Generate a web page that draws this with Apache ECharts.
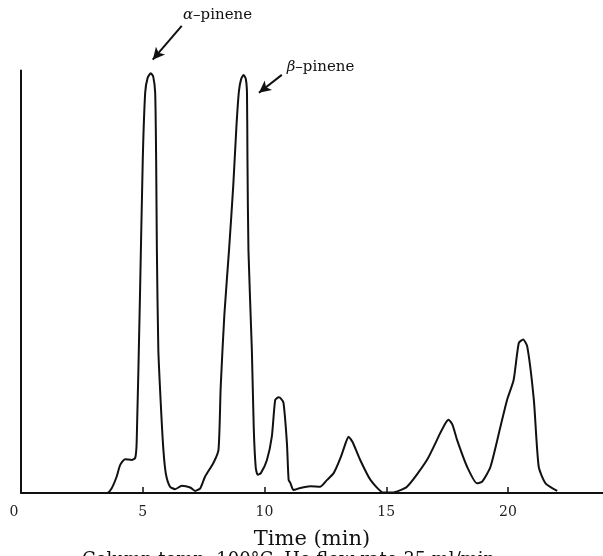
<!DOCTYPE html>
<html>
<head>
<meta charset="utf-8">
<script src="https://cdn.jsdelivr.net/npm/echarts@6/dist/echarts.min.js"></script>
<style>
html,body{margin:0;padding:0;background:#fff;}
#chart{width:603px;height:556px;}
</style>
</head>
<body>
<div id="chart"></div>
<script>
// Retention time (min) and detector signal (relative units)
var timeMin = [0, 0, 3.53, 3.73, 3.93, 4.07, 4.27, 4.55, 4.69, 4.75, 4.88, 5.00, 5.10, 5.20, 5.33, 5.43, 5.51, 5.55, 5.58, 5.64, 5.75, 5.85, 5.95, 6.12, 6.33, 6.60, 6.95, 7.15, 7.36, 7.56, 7.90, 8.11, 8.20, 8.35, 8.55, 8.72, 8.85, 8.95, 9.04, 9.14, 9.23, 9.28, 9.30, 9.34, 9.48, 9.56, 9.64, 9.72, 9.85, 10.10, 10.30, 10.44, 10.58, 10.69, 10.78, 10.92, 10.99, 11.06, 11.19, 11.47, 11.88, 12.29, 12.57, 12.84, 13.12, 13.32, 13.45, 13.61, 13.93, 14.35, 14.89, 15.24, 15.85, 16.67, 17.22, 17.43, 17.56, 17.72, 17.91, 18.32, 18.73, 18.94, 19.28, 19.69, 19.96, 20.23, 20.44, 20.62, 20.79, 21.06, 21.26, 21.54, 22.02];
var signal = [100, 0, 0, 1.2, 3.9, 6.6, 8.0, 7.8, 8.3, 12.0, 45.0, 78.7, 94.6, 98.1, 99.2, 98.4, 94.6, 78.7, 57.4, 33.8, 20.0, 10.0, 4.5, 1.5, 0.9, 1.7, 1.3, 0.5, 1.1, 3.9, 7.1, 10.2, 25.0, 42.0, 58.0, 73.0, 87.0, 95.0, 97.8, 98.8, 97.9, 94.5, 78.7, 57.4, 33.8, 15.0, 6.0, 4.3, 4.7, 7.8, 13.3, 22.0, 22.6, 22.2, 21.3, 11.8, 3.1, 2.4, 0.7, 1.2, 1.6, 1.5, 3.1, 4.7, 8.3, 11.6, 13.3, 12.1, 7.8, 3.1, 0.1, 0.1, 1.5, 7.8, 14.2, 16.5, 17.3, 16.1, 12.5, 6.2, 2.3, 2.7, 6.2, 15.7, 22.0, 26.7, 35.4, 36.3, 34.6, 22.0, 6.2, 2.3, 0.5];

var xTickValues = [5, 10, 15, 20];
var xLabelValues = [0, 5, 10, 15, 20];
var xAxisTitle = 'Time (min)';
var captionText = 'Column temp. 100°C, He flow rate 35 ml/min';

// Peak annotations: label anchor [time, signal] and arrow from/to
var annotationNames = ['α', 'β'];
var annotationLabelAt = [[6.65, 113], [10.91, 100.7]];
var annotationArrowFrom = [[6.60, 110.4], [10.71, 98.8]];
var annotationArrowTo = [[5.41, 102.4], [9.77, 94.6]];

var trace = timeMin.map(function (t, i) { return [t, signal[i]]; });

var markLineData = annotationArrowFrom.map(function (f, i) {
  return [
    { coord: f, symbol: 'none' },
    { coord: annotationArrowTo[i], symbol: 'arrow', symbolSize: [9, 12] }
  ];
});
var markPointData = annotationLabelAt.map(function (p, i) {
  return { coord: p, name: annotationNames[i] };
});

var serif = 'DejaVu Serif';
var chart = echarts.init(document.getElementById('chart'));
chart.setOption({
  animation: false,
  backgroundColor: '#ffffff',
  grid: { left: 21, right: 0, top: 0, bottom: 63 },
  xAxis: {
    type: 'value',
    min: 0,
    max: 23.9,
    interval: 5,
    axisLine: { show: true, lineStyle: { color: '#111', width: 2 } },
    axisTick: { show: true, inside: true, length: 6, customValues: xTickValues, lineStyle: { color: '#111', width: 1.5 } },
    axisLabel: {
      customValues: xLabelValues,
      fontFamily: serif, fontSize: 14, color: '#222', margin: 12,
      formatter: function (v) { return v === 0 ? '{z|0}' : String(v); },
      rich: { z: { fontFamily: serif, fontSize: 14, color: '#222', padding: [0, 14, 0, 0] } }
    },
    splitLine: { show: false },
    name: xAxisTitle,
    nameLocation: 'middle',
    nameGap: 36,
    nameTextStyle: { fontFamily: serif, fontSize: 21, color: '#111' }
  },
  yAxis: {
    type: 'value',
    min: 0,
    max: 116.5,
    show: false
  },
  series: [{
    type: 'line',
    data: trace,
    showSymbol: false,
    symbol: 'none',
    smooth: 0.2,
    clip: false,
    lineStyle: { color: '#111', width: 2 },
    markLine: {
      silent: true,
      animation: false,
      label: { show: false },
      lineStyle: { color: '#111', width: 2, type: 'solid' },
      data: markLineData
    },
    markPoint: {
      silent: true,
      symbol: 'circle',
      symbolSize: 0,
      itemStyle: { color: 'transparent' },
      label: {
        show: true,
        position: 'right',
        distance: 0,
        formatter: function (p) { return '{g|' + p.name + '}–pinene'; },
        fontFamily: serif,
        fontSize: 15,
        color: '#111',
        rich: { g: { fontFamily: serif, fontStyle: 'italic', fontSize: 15, color: '#111' } }
      },
      data: markPointData
    }
  }],
  graphic: [{
    type: 'text',
    left: 82,
    top: 551,
    style: { text: captionText, font: '18px "DejaVu Serif"', fill: '#111' }
  }]
});
</script>
</body>
</html>
